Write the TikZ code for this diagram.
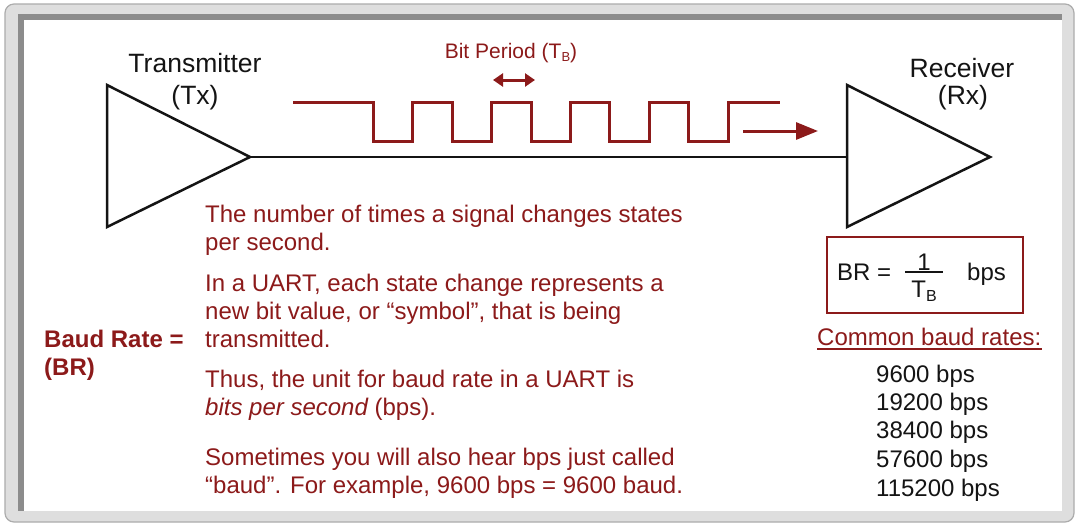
\documentclass[tikz,border=0pt]{standalone}
\usepackage{fontspec}
\setmainfont{Liberation Sans}
\usetikzlibrary{arrows.meta,calc}
\definecolor{brd}{RGB}{140,26,26}
\definecolor{frameL}{RGB}{222,222,222}
\definecolor{frameD}{RGB}{140,140,140}
\definecolor{ink}{RGB}{20,20,20}
\tikzset{
  body/.style={anchor=base west, inner sep=0pt, text=brd, font=\fontsize{24}{24}\selectfont},
  bodyb/.style={body, font=\fontsize{24}{24}\selectfont\bfseries},
  title/.style={anchor=base, inner sep=0pt, text=ink, font=\fontsize{26.5}{26.5}\selectfont},
  rate/.style={anchor=base west, inner sep=0pt, text=ink, font=\fontsize{24}{24}\selectfont},
  formula/.style={anchor=base, inner sep=0pt, text=ink, font=\fontsize{24}{24}\selectfont},
  amp/.style={draw=ink, line width=2.5pt, line join=miter},
  wave/.style={draw=brd, line width=3pt},
  tipS/.tip={Triangle[length=10pt,width=13pt]},
}
\begin{document}
\begin{tikzpicture}[x=1pt,y=-1pt]
\useasboundingbox (0,0) rectangle (1077,525);
\fill[white] (0,0) rectangle (1077,525);
% frame
\draw[fill=frameL, draw=gray!65, line width=1.2pt, rounded corners=9pt] (5,4) rectangle (1074,522);
\fill[frameD] (18,14) rectangle (1062,20);
\fill[frameD] (18,14) rectangle (24,511);
\fill[white] (24,20) rectangle (1062,511);

% amplifiers
\coordinate (txtop) at (107,85);
\coordinate (txtip) at (250,157);
\coordinate (txbot) at (107,227);
\coordinate (rxtop) at (847,85);
\coordinate (rxtip) at (990,157);
\coordinate (rxbot) at (847,227);
\coordinate (rxin)  at (847,157);
\draw[amp] (txtop) -- (txtip) -- (txbot) -- cycle;
\draw[amp] (rxtop) -- (rxtip) -- (rxbot) -- cycle;
\draw[ink, line width=2.5pt] (txtip) -- (rxin);

\node[title] (tx1) at (195,72) {Transmitter};
\node[title] (tx2) at (195,104) {(Tx)};
\node[title] (rx1) at (962,77) {Receiver};
\node[title] (rx2) at (963,104) {(Rx)};

% waveform
\draw[wave] (293,102) -- (373,102) -- (373,141) -- (412,141) -- (412,102)
  -- (452,102) -- (452,141) -- (491,141) -- (491,102) -- (531,102) -- (531,141)
  -- (570,141) -- (570,102) -- (609,102) -- (609,141) -- (649,141) -- (649,102)
  -- (688,102) -- (688,141) -- (728,141) -- (728,102) -- (780,102);
\coordinate (arrS) at (743,131);
\coordinate (arrE) at (818,131);
\draw[brd, line width=3pt, -{Triangle[length=22pt,width=17pt]}] (arrS) -- (arrE);
\coordinate (bpL) at (493,80);
\coordinate (bpR) at (535,80);
\draw[brd, line width=3pt, tipS-tipS] (bpL) -- (bpR);
\node[anchor=base, inner sep=0pt, text=brd, font=\fontsize{21}{21}\selectfont] (bp) at (511,58)
  {Bit Period (T\raisebox{-3pt}{\fontsize{13}{13}\selectfont B})};

% left labels
\node[bodyb] (br1) at (44,347) {Baud Rate =};
\node[bodyb] (br2) at (44,375) {(BR)};

% body text
\node[body] (t1) at (205,222) {The number of times a signal changes states};
\node[body] (t2) at (205,250) {per second.};
\node[body] (t3) at (205,291) {In a UART, each state change represents a};
\node[body] (t4) at (205,319) {new bit value, or “symbol”, that is being};
\node[body] (t5) at (205,347) {transmitted.};
\node[body] (t6) at (205,387) {Thus, the unit for baud rate in a UART is};
\node[body] (t7) at (205,415) {\itshape bits per second\upshape{} (bps).};
\node[body] (t8) at (205,465) {Sometimes you will also hear bps just called};
\node[body] (t9) at (205,493) {“baud”.  For example, 9600 bps = 9600 baud.};

% formula box
\node[draw=brd, line width=2pt, minimum width=196pt, minimum height=76pt, inner sep=0pt] (brbox) at (925,275) {};
\node[formula, anchor=base west] (fbr) at (837,280) {BR =};
\node[formula] (fone) at (924,270) {1};
\coordinate (barL) at (905,272);
\coordinate (barR) at (943,272);
\draw[ink, line width=1.6pt] (barL) -- (barR);
\node[formula] (ftb) at (924,297) {T\raisebox{-4pt}{\fontsize{16}{16}\selectfont B}};
\node[formula, anchor=base west] (fbps) at (967,280) {bps};

% common rates
\node[body] (cbr) at (817,345) {Common baud rates:};
\draw[brd, line width=1.5pt] ($(cbr.base west)+(0,4)$) -- ($(cbr.base east)+(0,4)$);
\node[rate] (r1) at (876,382) {9600 bps};
\node[rate] (r2) at (876,410) {19200 bps};
\node[rate] (r3) at (876,438) {38400 bps};
\node[rate] (r4) at (876,467) {57600 bps};
\node[rate] (r5) at (876,496) {115200 bps};
\end{tikzpicture}
\end{document}
